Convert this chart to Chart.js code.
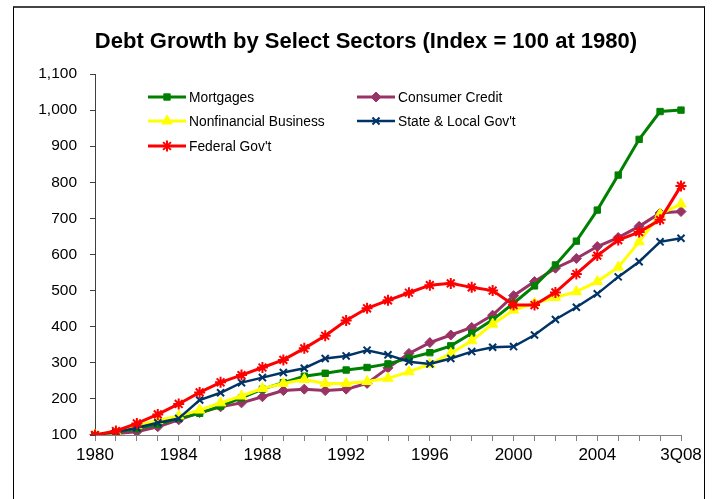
<!DOCTYPE html>
<html>
<head>
<meta charset="utf-8">
<script src="https://cdn.jsdelivr.net/npm/chart.js"></script>
<style>
  body { margin: 0; background: #fff; }
  #wrap { position: relative; width: 715px; height: 499px; overflow: hidden; }
  #frame { position: absolute; left: 13px; top: 6px; width: 690px; height: 520px;
           border: 1px solid #000; border-top: 2px solid #444; pointer-events: none; }
</style>
</head>
<body>
<div id="wrap">
  <canvas id="myChart" width="715" height="499"></canvas>
  <div id="frame"></div>
</div>
<script>
const years = ['1980', '1981', '1982', '1983', '1984', '1985', '1986', '1987', '1988', '1989',
  '1990', '1991', '1992', '1993', '1994', '1995', '1996', '1997', '1998', '1999',
  '2000', '2001', '2002', '2003', '2004', '2005', '2006', '2007', '3Q08'];

const mortgages = [100, 108, 117, 130, 146, 160, 180, 203, 227, 245, 263, 271, 280, 287, 297,
  313, 328, 347, 382, 419, 465, 513, 571, 637, 723, 820, 919, 996, 1000];
const consumerCredit = [100, 104, 109, 123, 142, 162, 178, 189, 206, 223, 227, 223, 227, 243, 286,
  326, 356, 377, 398, 432, 486, 525, 562, 589, 622, 647, 678, 715, 719];
const nonfinancial = [100, 108, 126, 140, 153, 169, 189, 208, 229, 243, 254, 243, 243, 248, 257,
  275, 296, 326, 361, 407, 446, 465, 481, 497, 525, 565, 635, 712, 740];
const stateLocal = [100, 108, 120, 134, 146, 197, 217, 245, 259, 273, 285, 312, 319, 335, 322,
  303, 297, 312, 331, 343, 345, 377, 420, 454, 491, 538, 580, 635, 645];
const federal = [100, 111, 132, 157, 186, 218, 246, 266, 287, 308, 340, 375, 417, 451, 473,
  494, 515, 520, 509, 500, 460, 460, 495, 546, 597, 640, 662, 696, 790];

const ctx = document.getElementById('myChart');

function series(label, data, color, style, radius, order, width) {
  return {
    label: label,
    data: data,
    borderColor: color,
    backgroundColor: color,
    pointBackgroundColor: color,
    pointBorderColor: color,
    pointStyle: style,
    pointRadius: radius,
    pointBorderWidth: style === 'star' || style === 'crossRot' ? 2 : 1,
    borderWidth: width || 3,
    tension: 0,
    order: order,
  };
}

// legend drawn in two columns inside the plot, like the original
const legendInPlot = {
  id: 'legendInPlot',
  afterDatasetsDraw(chart) {
    const c = chart.ctx;
    const area = chart.chartArea;
    const slots = [[53, 23], [262, 23], [53, 47], [262, 47], [53, 72]];
    c.save();
    c.font = '13.8px "Liberation Sans", Arial, sans-serif';
    c.textBaseline = 'middle';
    chart.data.datasets.forEach((ds, i) => {
      const x = area.left + slots[i][0];
      const y = area.top + slots[i][1];
      c.strokeStyle = ds.borderColor;
      c.lineWidth = ds.borderWidth;
      c.beginPath();
      c.moveTo(x, y);
      c.lineTo(x + 38, y);
      c.stroke();
      c.fillStyle = ds.backgroundColor;
      c.lineWidth = ds.pointBorderWidth;
      Chart.helpers.drawPoint(c, { pointStyle: ds.pointStyle, radius: ds.pointRadius, rotation: 0, borderWidth: ds.pointBorderWidth }, x + 19, y);
      c.fillStyle = '#000';
      c.fillText(ds.label, x + 41, y + 1);
    });
    c.restore();
  }
};

const config = {
  type: 'line',
  data: {
    labels: years,
    datasets: [
      series('Mortgages', mortgages, '#008000', 'rect', 4.5, 3),
      series('Consumer Credit', consumerCredit, '#993366', 'rectRot', 5, 4),
      series('Nonfinancial Business', nonfinancial, '#FFFF00', 'triangle', 6, 2),
      series('State & Local Gov\'t', stateLocal, '#003366', 'crossRot', 5, 1, 2.5),
      series('Federal Gov\'t', federal, '#FF0000', 'star', 5.5, 0),
    ],
  },
  options: {
    responsive: false,
    animation: false,
    layout: { padding: { left: 17, right: 0, top: 0, bottom: 0 } },
    plugins: {
      legend: { display: false },
      tooltip: { enabled: false },
      title: {
        display: true,
        text: 'Debt Growth by Select Sectors (Index = 100 at 1980)',
        color: '#000',
        font: { family: '"Liberation Sans", Arial, sans-serif', size: 22, weight: 'bold', lineHeight: 1.2 },
        padding: { top: 29, bottom: 18.6 },
      },
    },
    scales: {
      x: {
        offset: false,
        afterFit: (scale) => { scale.height = 64; },
        border: { color: '#808080', width: 1 },
        grid: { drawOnChartArea: false, drawTicks: true, tickLength: 6, color: '#808080' },
        ticks: {
          autoSkip: false,
          maxRotation: 0,
          padding: 4,
          color: '#000',
          font: { family: '"Liberation Sans", Arial, sans-serif', size: 17 },
          callback: (val, idx) => (idx % 4 === 0 ? years[idx] : ''),
        },
      },
      y: {
        min: 100,
        max: 1100,
        afterFit: (scale) => { scale.width = 78; },
        border: { color: '#404040', width: 1 },
        grid: { drawOnChartArea: false, drawTicks: true, tickLength: 5, color: '#404040' },
        ticks: {
          stepSize: 100,
          padding: 13,
          color: '#000',
          font: { family: '"Liberation Sans", Arial, sans-serif', size: 15.5 },
          callback: (v) => v.toLocaleString('en-US'),
        },
      },
      // empty right-hand gutter so the plot ends where the original does
      gutter: {
        position: 'right',
        min: 100,
        max: 1100,
        afterFit: (scale) => { scale.width = 34; },
        border: { display: false },
        grid: { display: false },
        ticks: { display: false },
      },
    },
  },
  plugins: [legendInPlot],
};

new Chart(ctx, config);
</script>
</body>
</html>
